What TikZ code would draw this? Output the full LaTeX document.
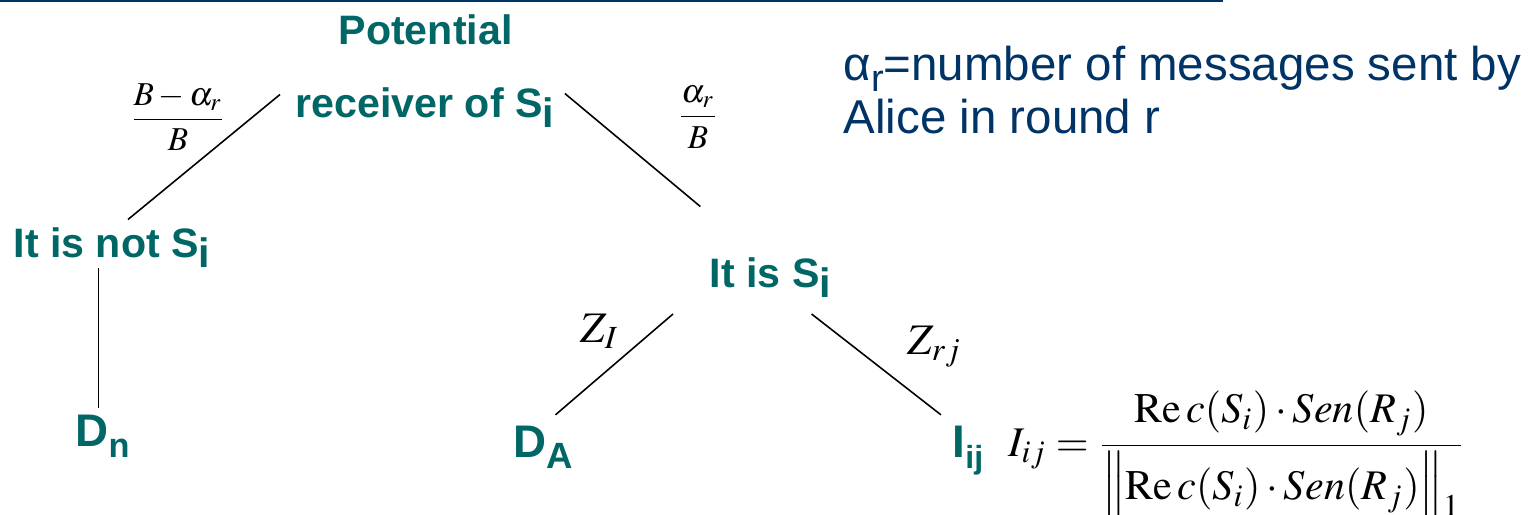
\documentclass[tikz,border=0pt]{standalone}
\usepackage{amsmath}
\usepackage{mathptmx}
\usepackage[no-math]{fontspec}
\setmainfont{Liberation Sans}
\usepackage{graphicx}
\definecolor{treegreen}{RGB}{0,102,102}
\definecolor{slidenavy}{RGB}{0,51,102}
\newcommand{\lowsub}[2][1]{\raisebox{-0.25em}{\scalebox{#1}{#2}}}

\begin{document}
\begin{tikzpicture}[x=0.01cm,y=-0.01cm,
   lbl/.style={text=treegreen,inner sep=0pt,font=\fontsize{11.7}{14}\selectfont\bfseries},
   leaf/.style={text=treegreen,inner sep=0pt,font=\fontsize{13}{15}\selectfont\bfseries},
   prob/.style={inner sep=0pt,font=\fontsize{9.5}{11}\selectfont},
   mth/.style={inner sep=0pt,font=\fontsize{12.4}{15}\selectfont},
   edge/.style={line width=0.45pt}]
\useasboundingbox (0,0) rectangle (1530,514);
\draw[slidenavy,line width=0.02cm] (0,1) -- (1223,1);
% tree labels
\node[lbl,anchor=base west] (pot) at (338,44) {Potential};
\node[lbl,anchor=base west] (recv) at (295,117) {receiver of S\lowsub{i}};
\node[lbl,anchor=base west] (nots) at (13,257) {It is not S\lowsub{i}};
\node[lbl,anchor=base west] (iss) at (709,287) {It is S\lowsub{i}};
% leaves
\node[leaf,anchor=base west] (dn) at (75,446) {D\lowsub[0.75]{n}};
\node[leaf,anchor=base west] (da) at (513,457) {D\lowsub[0.8]{A}};
\node[leaf,anchor=base west] (iij) at (952,457) {I\lowsub[0.7]{ij}};
% branches
\draw[edge] ([shift={(-15,8)}]recv.north west) -- ([shift={(16,-7)}]nots.north);
\draw[edge] ([shift={(10,7)}]recv.north east) -- ([shift={(-70,-50)}]iss.north);
\draw[edge] ([shift={(-4,0)}]nots.south -| dn.north) -- ([shift={(-4,-6)}]dn.north);
\draw[edge] ([shift={(-36,16)}]iss.south west) -- ([shift={(12,-10)}]da.north);
\draw[edge] ([shift={(-20,16)}]iss.south east) -- ([shift={(-11,-10)}]iij.north west);
% branch weights
\node[prob] (wnot) at (178,117) {$\dfrac{B-\alpha_r}{B}$};
\node[prob] (wis) at (698,117) {$\dfrac{\alpha_r}{B}$};
\node[mth,anchor=base west] (zi) at (580,342) {$Z_I$};
\node[mth,anchor=base west] (zr) at (907,354) {$Z_{rj}$};
% formula and note
\node[mth,anchor=base west,font=\fontsize{12}{15}\selectfont] (form) at (1008,456)
  {$I_{ij}=\dfrac{\mathrm{Re}\,c(S_i)\cdot Sen(R_j)\rule[-0.4em]{0pt}{0pt}}{\left\|\rule{0pt}{0.92em}\mathrm{Re}\,c(S_i)\cdot Sen(R_j)\right\|_{\raisebox{0.3em}{$\scriptstyle 1$}}}$};
\node[anchor=north west,inner sep=0pt,align=left,text=slidenavy,font=\fontsize{13.5}{15.1}\selectfont] (note) at (843,45)
  {α\lowsub[0.8]{r}=number of messages sent by\\Alice in round r};
\end{tikzpicture}
\end{document}
